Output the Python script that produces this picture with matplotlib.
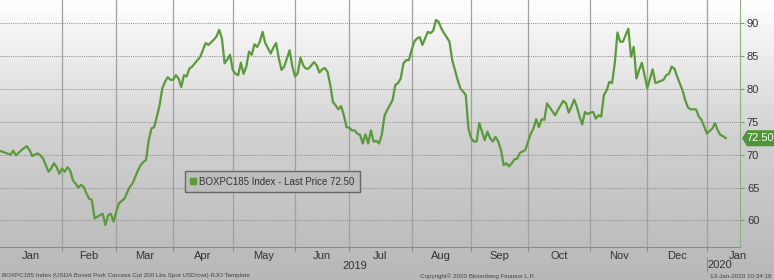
import numpy as np
import matplotlib.pyplot as plt
from matplotlib.lines import Line2D
from matplotlib.patches import Polygon
from matplotlib.colors import LinearSegmentedColormap

plt.rcParams['font.family'] = ['Liberation Sans', 'DejaVu Sans']

# trading days counted from 2019-01-01, BOXPC185 last price (USD/cwt)
day = [0, 2, 4, 5, 6, 8, 10, 11, 12, 14, 15, 16, 18, 19, 20, 21, 22, 23, 24, 25,
       26, 27, 28, 29, 30, 31, 32, 33, 34, 35, 37, 38, 39, 40, 41, 42, 43, 44, 46, 48,
       49, 51, 52, 53, 54, 55, 56, 57, 58, 59, 60, 61, 62, 63, 64, 65, 66, 67, 68, 69,
       70, 71, 72, 74, 76, 77, 79, 80, 81, 82, 83, 84, 85, 86, 87, 88, 89, 90, 91, 92,
       93, 94, 95, 96, 97, 98, 99, 100, 101, 102, 103, 104, 105, 107, 108, 109, 110, 111, 112, 113,
       114, 116, 117, 118, 119, 120, 121, 122, 123, 124, 125, 126, 127, 128, 129, 130, 131, 132, 133, 134,
       135, 136, 137, 138, 139, 140, 141, 142, 143, 145, 146, 147, 148, 149, 150, 151, 152, 153, 154, 155,
       156, 157, 158, 159, 160, 161, 162, 163, 164, 166, 167, 168, 169, 170, 171, 172, 173, 174, 175, 176,
       177, 178, 179, 180, 181, 182, 183, 184, 185, 186, 187, 188, 189, 190, 191, 192, 194, 195, 196, 197,
       198, 199, 200, 201, 202, 203, 205, 206, 207, 208, 209, 210, 211, 212, 213, 214, 215, 216, 217, 218,
       219, 220, 221, 222, 223, 224, 225, 226, 227, 228, 229, 230, 232, 233, 234, 235, 236, 237, 238, 239,
       241, 242, 245, 246, 247, 248, 249, 250, 252, 253, 254, 255, 257, 258, 259, 260, 261, 263, 264, 265,
       266, 267, 268]
price = [70.6, 70.3, 70.0, 70.6, 69.9, 70.7, 71.3, 70.7, 69.8, 70.2, 69.9, 69.4, 67.4, 67.9, 68.7, 68.1, 67.1, 67.9, 67.4, 68.1,
         67.6, 66.1, 65.6, 65.0, 65.4, 65.1, 64.1, 63.3, 63.1, 60.3, 60.8, 61.0, 59.3, 60.8, 61.0, 59.8, 61.3, 62.6, 63.3, 65.1,
         65.6, 67.6, 68.4, 68.9, 69.2, 72.2, 74.0, 74.2, 75.8, 77.5, 80.1, 81.1, 81.8, 81.4, 81.4, 82.1, 81.6, 80.3, 82.1, 81.9,
         83.1, 83.4, 83.9, 84.9, 87.0, 86.7, 87.5, 88.0, 89.0, 87.7, 83.9, 84.5, 85.2, 82.9, 82.3, 82.1, 84.0, 82.3, 83.4, 85.7,
         85.2, 86.8, 86.4, 87.2, 88.7, 87.0, 86.2, 85.4, 86.3, 87.0, 84.7, 82.9, 83.4, 85.9, 83.4, 81.9, 82.4, 84.8, 83.6, 83.1,
         83.1, 84.1, 83.6, 82.5, 83.0, 83.2, 82.6, 80.6, 78.0, 77.5, 76.9, 77.4, 76.0, 74.2, 74.1, 73.7, 73.7, 73.2, 73.0, 71.7,
         73.1, 71.7, 73.7, 72.0, 72.1, 71.7, 73.0, 75.9, 76.8, 78.3, 80.6, 80.9, 81.6, 83.9, 84.4, 84.4, 85.9, 87.2, 87.7, 87.9,
         86.7, 87.7, 88.7, 88.5, 88.9, 90.5, 90.2, 89.2, 88.5, 87.2, 84.4, 82.9, 81.4, 80.1, 79.6, 79.1, 74.0, 72.5, 72.0, 72.0,
         74.8, 73.5, 72.2, 73.5, 72.5, 72.0, 72.7, 72.0, 70.7, 68.4, 68.7, 68.2, 68.7, 69.3, 69.4, 70.3, 70.7, 72.0, 73.2, 74.0,
         75.4, 74.2, 75.4, 75.3, 77.8, 77.2, 76.0, 76.8, 77.5, 78.2, 77.8, 76.4, 77.3, 78.4, 77.3, 75.8, 74.6, 76.5, 76.2, 76.4,
         76.5, 75.5, 76.0, 75.8, 79.1, 79.8, 81.1, 80.9, 83.9, 88.6, 87.2, 87.2, 89.2, 84.9, 86.4, 81.6, 82.9, 84.0, 82.1, 80.1,
         83.0, 80.9, 81.4, 82.1, 82.3, 83.4, 83.1, 81.9, 79.8, 78.3, 77.2, 76.9, 76.9, 75.8, 75.3, 74.3, 73.2, 74.0, 74.8, 73.7,
         73.0, 72.8, 72.5]
last_price = 72.50

month_labels = ['Jan', 'Feb', 'Mar', 'Apr', 'May', 'Jun', 'Jul', 'Aug', 'Sep', 'Oct', 'Nov', 'Dec', 'Jan']
month_starts = ['2019-01-01', '2019-02-01', '2019-03-01', '2019-04-01', '2019-05-01', '2019-06-01',
                '2019-07-01', '2019-08-01', '2019-09-01', '2019-10-01', '2019-11-01', '2019-12-01',
                '2020-01-01', '2020-02-01']
y_ticks = [60, 65, 70, 75, 80, 85, 90]

GREEN = '#5a9a3a'

bounds = np.busday_count('2019-01-01', month_starts)
centers = (bounds[:-1] + bounds[1:]) / 2.0

fig = plt.figure(figsize=(7.74, 2.80), dpi=100)

# grey gradient background, white at top
bg = fig.add_axes([0, 0, 1, 1], zorder=-10)
grad = np.linspace(1, 0, 256).reshape(-1, 1)
cmap = LinearSegmentedColormap.from_list('bb', ['#b8b8b8', '#d0d0d0', '#ffffff'])
bg.imshow(grad, aspect='auto', cmap=cmap, extent=[0, 1, 0, 1])
bg.set_axis_off()

ax = fig.add_axes([0, 0.118, 0.956, 0.882])
ax.set_facecolor('none')
ax.plot(day, price, color=GREEN, lw=1.6, zorder=3, solid_joinstyle='round')

ax.set_xlim(0.1, 273.2)
ax.set_ylim(55.95, 93.55)

ax.yaxis.tick_right()
ax.set_yticks(y_ticks)
ax.tick_params(axis='y', direction='out', length=3, width=0.8, color='#7a9a70',
               labelsize=8, labelcolor='#333333', pad=2)
ax.grid(axis='y', color='#8a8a8a', ls=(0, (1, 1.2)), lw=0.7)

ax.set_xticks(bounds[1:-1])
ax.set_xticklabels([])
ax.set_xticks(centers, minor=True)
ax.set_xticklabels(month_labels, minor=True)
ax.tick_params(axis='x', which='major', direction='out', length=3, color='#888888')
ax.tick_params(axis='x', which='minor', length=0, labelsize=8, labelcolor='#333333', pad=3)
for b in bounds[1:-1]:
    ax.axvline(b, color='#a0a0a0', lw=0.9, zorder=1)

for s in ['top', 'left']:
    ax.spines[s].set_visible(False)
ax.spines['bottom'].set_color('#8a8a8a')
ax.spines['right'].set_color('#8fae85')

# year labels and separator
fig.text(355 / 774, 1 - 266 / 280, '2019', ha='center', va='center', fontsize=8, color='#333333')
fig.text(720 / 774, 1 - 265 / 280, '2020', ha='center', va='center', fontsize=8, color='#333333')
fig.add_artist(Line2D([707 / 774, 707 / 774], [1 - 258 / 280, 1 - 272 / 280],
                      transform=fig.transFigure, color='#888888', lw=0.7))

# legend
handle = Line2D([], [], color=GREEN, marker='s', ls='none', markersize=5)
leg = ax.legend([handle], ['BOXPC185 Index - Last Price 72.50'], loc='center left',
                bbox_to_anchor=(0.243, 0.265), fontsize=7, frameon=True, fancybox=False,
                handlelength=0.6, handletextpad=0.3, borderpad=0.6, labelcolor='#333333')
leg.get_frame().set_facecolor('#bdbdbd')
leg.get_frame().set_edgecolor('#666666')
leg.get_frame().set_alpha(1)

# last price tag
pos = ax.get_position()
y_tag = pos.y0 + (last_price - 55.95) / (93.55 - 55.95) * pos.height
h = 8 / 280
x0 = 742 / 774
tag = Polygon([[x0, y_tag], [x0 + 5 / 774, y_tag + h], [1.0, y_tag + h],
               [1.0, y_tag - h], [x0 + 5 / 774, y_tag - h]],
              closed=True, transform=fig.transFigure, fc='#4f9436', ec='none')
fig.add_artist(tag)
fig.text(760 / 774, y_tag, f'{last_price:.2f}', ha='center', va='center',
         fontsize=8, color='white')

# footer
fig.text(2 / 774, 4 / 280, 'BOXPC185 Index (USDA Boxed Pork Carcass Cut 200 Lbs Spot USD/cwt) RJO Template',
         fontsize=4.5, color='#444444', ha='left', va='center')
fig.text(420 / 774, 4 / 280, 'Copyright\u00a9 2020 Bloomberg Finance L.P.',
         fontsize=4.5, color='#444444', ha='left', va='center')
fig.text(772 / 774, 4 / 280, '13-Jan-2020 10:34:18',
         fontsize=4.5, color='#444444', ha='right', va='center')

fig.savefig('out.png', dpi=100)
